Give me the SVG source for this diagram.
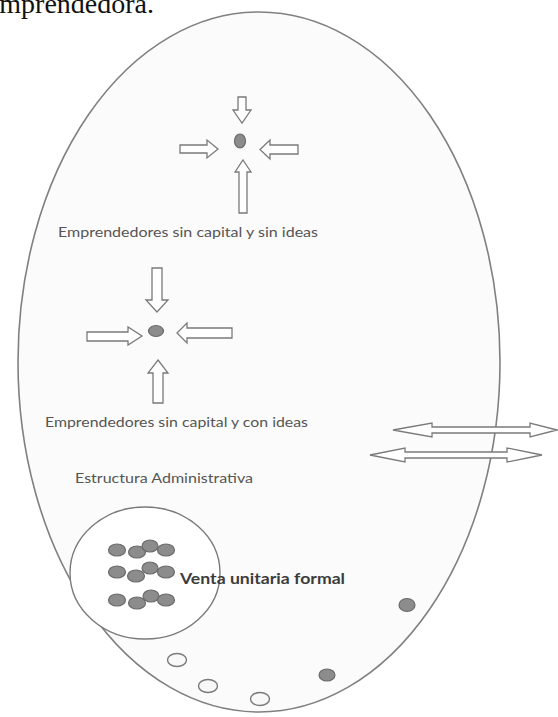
<svg xmlns="http://www.w3.org/2000/svg" width="558" height="717" viewBox="0 0 558 717">
<defs>
<style>
.frame{fill:#fbfbfb;stroke:#808080;stroke-width:1.6}
.arrow{fill:#ffffff;stroke:#7a7a7a;stroke-width:1.3;stroke-linejoin:miter}
.dot{fill:#8c8c8c;stroke:#6a6a6a;stroke-width:1.2}
.open{fill:#f8f8f8;stroke:#7a7a7a;stroke-width:1.4}
.lbl{font-family:Lato,"Open Sans","Liberation Sans",sans-serif;font-size:14px;fill:#555555}
.bold{font-family:Lato,"Open Sans","Liberation Sans",sans-serif;font-size:14.5px;font-weight:bold;fill:#3c3c3c}
.serif{font-family:"Liberation Serif","Times New Roman",serif;font-size:28px;fill:#111111}
</style>
</defs>
<rect width="558" height="717" fill="#ffffff"/>
<text class="serif" x="154" y="13" text-anchor="end">emprendedora.</text>

<g id="market">
<ellipse class="frame" cx="259" cy="362" rx="241" ry="350"/>
</g>

<g id="group1">
<ellipse class="dot" cx="240" cy="141" rx="5.5" ry="7"/>
<text class="lbl" x="58" y="237" textLength="260" lengthAdjust="spacingAndGlyphs">Emprendedores sin capital y sin ideas</text>
</g>

<g id="group2">
<ellipse class="dot" cx="156" cy="331" rx="7.5" ry="5.5"/>
<text class="lbl" x="45" y="427" textLength="263" lengthAdjust="spacingAndGlyphs">Emprendedores sin capital y con ideas</text>
</g>

<g id="admin">
<text class="lbl" x="75" y="483" textLength="178" lengthAdjust="spacingAndGlyphs">Estructura Administrativa</text>
</g>

<g id="venta">
<ellipse cx="145" cy="573" rx="75" ry="66" fill="#ffffff" stroke="#7a7a7a" stroke-width="1.4"/>
<ellipse class="dot" cx="117" cy="550" rx="8.5" ry="6"/>
<ellipse class="dot" cx="137" cy="552" rx="8.5" ry="6"/>
<ellipse class="dot" cx="150" cy="546" rx="8" ry="6"/>
<ellipse class="dot" cx="166" cy="550" rx="8.5" ry="6"/>
<ellipse class="dot" cx="117" cy="572" rx="8.5" ry="6"/>
<ellipse class="dot" cx="136" cy="576" rx="8.5" ry="6"/>
<ellipse class="dot" cx="150" cy="568" rx="8" ry="6"/>
<ellipse class="dot" cx="166" cy="572" rx="8.5" ry="6"/>
<ellipse class="dot" cx="117" cy="600" rx="8.5" ry="6"/>
<ellipse class="dot" cx="137" cy="603" rx="8.5" ry="6"/>
<ellipse class="dot" cx="151" cy="596" rx="8" ry="6"/>
<ellipse class="dot" cx="166" cy="600" rx="8.5" ry="6"/>
<text class="bold" x="180" y="584" textLength="165" lengthAdjust="spacingAndGlyphs">Venta unitaria formal</text>
</g>

<g id="loose">
<ellipse class="dot" cx="407" cy="605" rx="8" ry="6.5"/>
<ellipse class="dot" cx="327" cy="675" rx="8" ry="6"/>
<ellipse class="open" cx="177" cy="660" rx="9.5" ry="6.5"/>
<ellipse class="open" cx="208" cy="686" rx="9.5" ry="6.5"/>
<ellipse class="open" cx="260" cy="699" rx="9.5" ry="6.5"/>
</g>

<g id="connectors">
<polygon class="arrow" points="238,97 246,97 246,110 251,110 242,123 233,110 238,110"/>
<polygon class="arrow" points="180,145 207,145 207,140 218,149 207,158 207,153 180,153"/>
<polygon class="arrow" points="298,145 270,145 270,140 260,149.5 270,159 270,154 298,154"/>
<polygon class="arrow" points="243,160 251,172 247,172 247,213 239,213 239,172 235,172"/>

<polygon class="arrow" points="152,268 162,268 162,300 168,300 157,312 146,300 152,300"/>
<polygon class="arrow" points="87,332 128,332 128,327 142,336 128,345 128,341 87,341"/>
<polygon class="arrow" points="232,328 187,328 187,323 177,333 187,343 187,338 232,338"/>
<polygon class="arrow" points="158,360 168,373 163,373 163,403 153,403 153,373 148,373"/>

<polygon class="arrow" points="393,430 432,423 432,427 530,427 530,423 557,430 530,437 530,433 432,433 432,437"/>
<polygon class="arrow" points="370,455 405,448 405,452 507,452 507,448 542,455 507,462 507,458 405,458 405,462"/>
</g>
</svg>
